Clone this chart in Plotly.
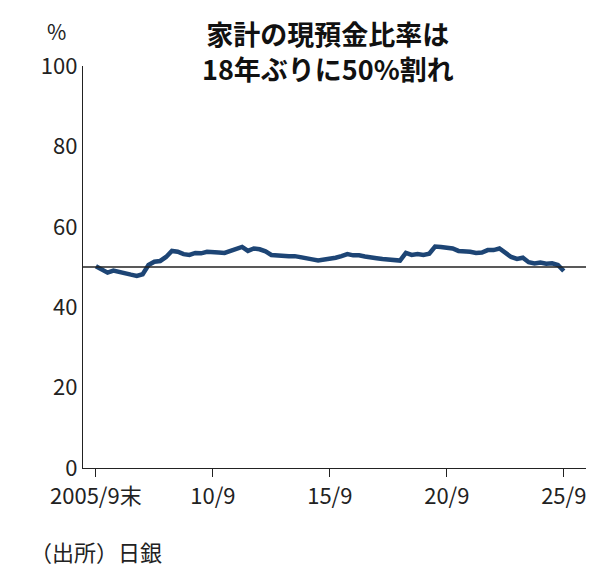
import plotly.graph_objects as go

values = [50.2,49.3,48.6,49.1,48.7,48.4,48.1,47.8,48.2,50.5,51.3,51.5,52.5,54.0,53.8,53.2,53.0,53.5,53.4,53.8,
53.6,53.6,53.5,54.0,54.6,55.0,54.0,54.6,54.4,53.9,53.0,52.9,52.6,52.7,52.7,52.5,52.2,51.9,51.6,51.8,
52.2,52.3,52.7,53.2,52.9,52.9,52.6,52.5,52.2,52.0,51.9,51.8,51.6,53.5,53.0,53.2,53.0,53.3,55.1,55.0,
54.7,54.6,54.0,54.0,53.8,53.5,53.6,54.2,54.2,54.6,53.5,52.5,52.0,52.3,51.2,50.9,51.1,50.8,50.9,50.5,49.0]
x = [2005.75 + 0.25 * i for i in range(len(values))]
tick_vals = [2005.75, 2010.75, 2015.75, 2020.75, 2025.75]
tick_text = ["2005/9末", "10/9", "15/9", "20/9", "25/9"]
ref_value = 50

F = "Noto Sans CJK JP"
fig = go.Figure()
fig.add_trace(go.Scatter(x=x, y=values, mode="lines", line=dict(color="#1d4575", width=4.5)))
fig.add_hline(y=ref_value, line=dict(color="#222", width=1.3))
fig.update_layout(
    width=596, height=572, margin=dict(l=75, r=18, t=58, b=112),
    paper_bgcolor="white", plot_bgcolor="white", showlegend=False,
    font=dict(family=F, size=22, color="#222"),
    xaxis=dict(range=[2005.2, 2026.7], tickvals=tick_vals, ticktext=tick_text, showgrid=False,
               showline=True, linecolor="#222", linewidth=1.3, ticks="outside", ticklen=8,
               tickcolor="#222", zeroline=False),
    yaxis=dict(range=[0, 100], tickvals=[0, 20, 40, 60, 80, 100], showgrid=False, showline=True,
               linecolor="#222", linewidth=1.3, ticks="", zeroline=False),
    annotations=[
        dict(text="<b>家計の現預金比率は<br>18年ぶりに50%割れ</b>", x=0.487, xref="paper", y=1.135, yref="paper",
             yanchor="top", showarrow=False, font=dict(family=F, size=27, color="#111")),
        dict(text="%", x=-0.075, xref="paper", xanchor="left", y=1.13, yref="paper", yanchor="top",
             showarrow=False, font=dict(family=F, size=21)),
        dict(text="（出所）日銀", x=-0.11, xref="paper", xanchor="left", y=-0.25, yref="paper",
             yanchor="bottom", showarrow=False, font=dict(family=F, size=22)),
    ],
)
fig.write_html("out.html")
